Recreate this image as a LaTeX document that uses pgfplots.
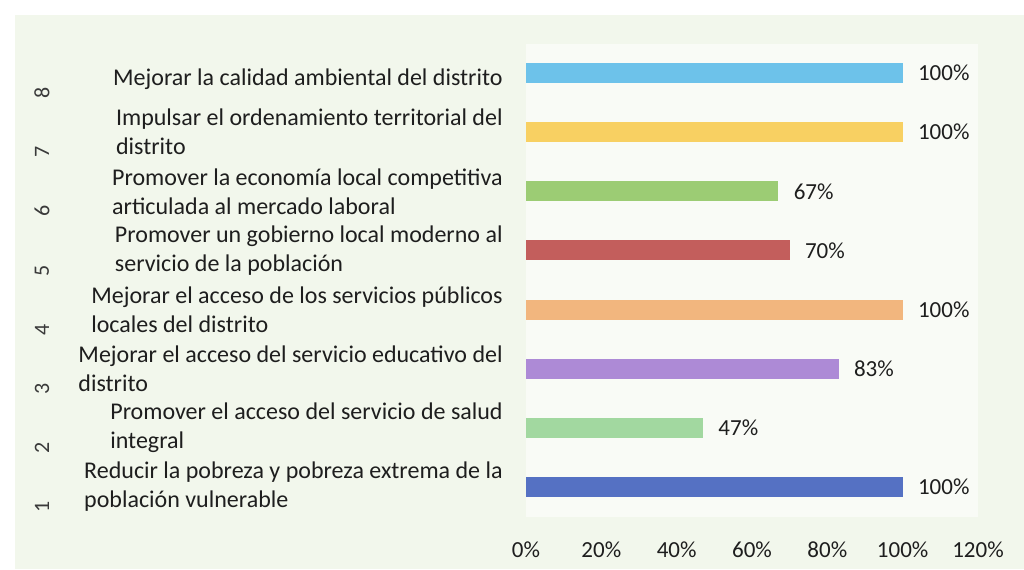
\documentclass[border=0pt]{standalone}
\usepackage{fontspec}
\setmainfont{Carlito}
\usepackage{pgfplots}
\pgfplotsset{compat=1.18}
\definecolor{cA}{HTML}{5571C3}
\definecolor{cB}{HTML}{A2D8A0}
\definecolor{cC}{HTML}{AD8AD6}
\definecolor{cD}{HTML}{F2B67E}
\definecolor{cE}{HTML}{C35E5C}
\definecolor{cF}{HTML}{9CCC74}
\definecolor{cG}{HTML}{F8D062}
\definecolor{cH}{HTML}{6DC2EA}
\definecolor{bggreen}{HTML}{F2F7EC}
\definecolor{plotbg}{HTML}{F9FBF6}
\definecolor{txt}{HTML}{1E1E1E}
\definecolor{numgray}{HTML}{3A3A3A}
\begin{document}
\begin{tikzpicture}
\fill[white] (0,0) rectangle (512pt,284.5pt);
\fill[bggreen] (7.5pt,0) rectangle (512pt,277pt);
\begin{axis}[
  at={(263pt,26.25pt)}, anchor=south west,
  scale only axis, width=226pt, height=236.5pt,
  xmin=0, xmax=120, ymin=0.5, ymax=8.5,
  axis background/.style={fill=plotbg},
  xbar, bar width=10pt, bar shift=0pt,
  axis line style={draw=none}, major tick length=0pt,
  clip=false,
  /pgf/number format/assume math mode=true,
  xtick={0,20,...,120},
  xticklabel={\pgfmathprintnumber{\tick}\%},
  xticklabel style={anchor=center, yshift=-16.75pt, font=\fontsize{11.5}{13}\selectfont, text=txt},
  ytick={1,...,8},
  yticklabels={
    {Reducir la pobreza y pobreza extrema de la\\población vulnerable},
    {Promover el acceso del servicio de salud\\integral},
    {Mejorar el acceso del servicio educativo del\\distrito},
    {Mejorar el acceso de los servicios públicos\\locales del distrito},
    {Promover un gobierno local moderno al\\servicio de la población},
    {Promover la economía local competitiva\\articulada al mercado laboral},
    {Impulsar el ordenamiento territorial del\\distrito},
    {\mbox{}\\Mejorar la calidad ambiental del distrito}},
  yticklabel style={align=left, anchor=east, inner sep=0pt, xshift=-11.5pt, font=\fontsize{12}{14.5}\selectfont, text=txt},
  nodes near coords={\pgfmathprintnumber{\pgfplotspointmeta}\%},
  nodes near coords style={anchor=west, inner sep=0pt, xshift=7.5pt, font=\fontsize{11.5}{13}\selectfont, text=txt},
]
\addplot[fill=cA, draw=none] coordinates {(100,1)};
\addplot[fill=cB, draw=none] coordinates {(47,2)};
\addplot[fill=cC, draw=none] coordinates {(83,3)};
\addplot[fill=cD, draw=none] coordinates {(100,4)};
\addplot[fill=cE, draw=none] coordinates {(70,5)};
\addplot[fill=cF, draw=none] coordinates {(67,6)};
\addplot[fill=cG, draw=none] coordinates {(100,7)};
\addplot[fill=cH, draw=none] coordinates {(100,8)};
\pgfplotsinvokeforeach{1,...,8}{
  \node[rotate=90, inner sep=0pt, font=\fontsize{11}{13}\selectfont, text=numgray] at ([xshift=-242pt, yshift=-10pt]axis cs:0,#1) {#1};
}
\end{axis}
\end{tikzpicture}
\end{document}
